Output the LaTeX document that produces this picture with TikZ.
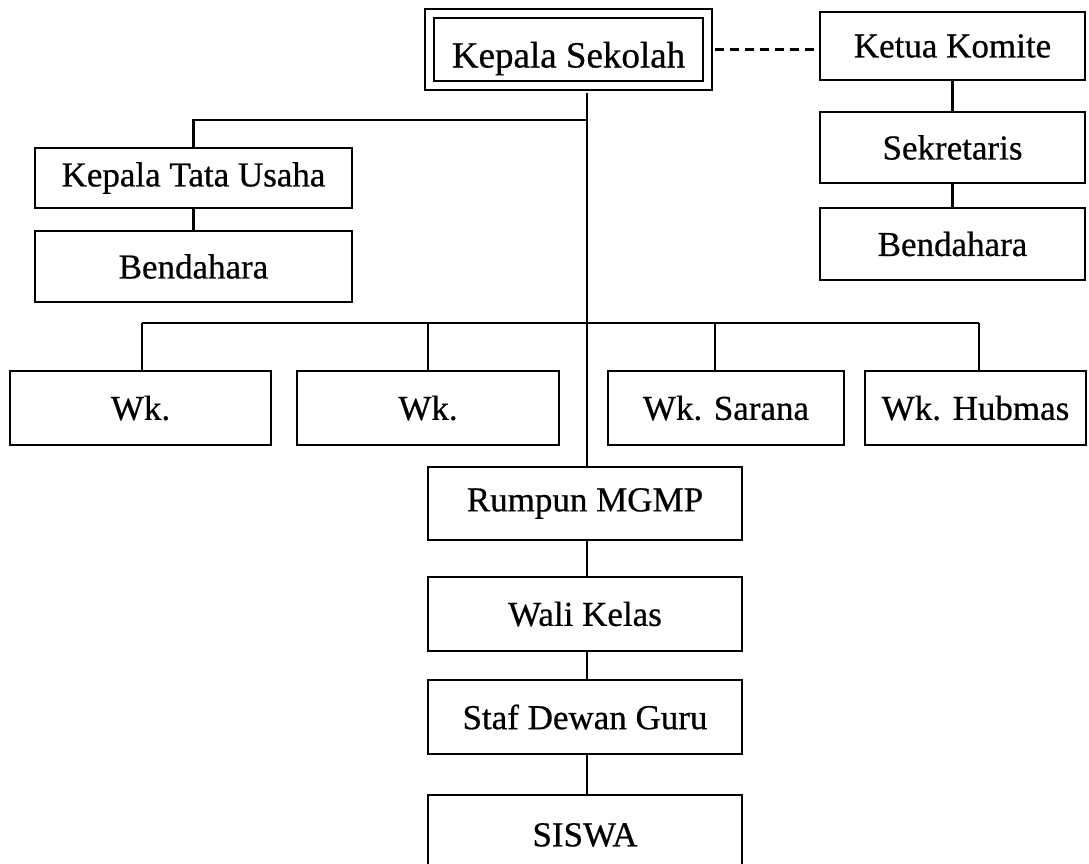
\documentclass[tikz,border=0pt]{standalone}
\usepackage{fontspec}
\setmainfont[FakeBold=0.6]{Liberation Serif}
\usetikzlibrary{calc}
\begin{document}
\begin{tikzpicture}[x=1pt,y=-1pt,
  box/.style 2 args={draw, line width=2.8pt, minimum width=#1, minimum height=#2,
    inner sep=0pt, fill=white, font=\fontsize{35}{40}\selectfont},
  conn/.style={line width=2.6pt},
  dashconn/.style={line width=2.2pt, dash pattern=on 9pt off 6pt}]
\useasboundingbox (0,0) rectangle (1089,863);

% nodes
\node[box={278}{72}, double, line width=2.8pt, double distance=6.2pt,
      font=\fontsize{37}{42}\selectfont] (ks) at (568.5,49.5) {\raisebox{-18pt}[0pt][0pt]{Kepala Sekolah}};
\node[box={265}{68}] (kk)  at (952.5,46)    {Ketua Komite};
\node[box={265}{71}] (sek) at (952.5,147.5) {Sekretaris};
\node[box={265}{72}] (bk)  at (952.5,244)   {Bendahara};
\node[box={317}{60}] (ktu) at (193.5,178)   {Kepala Tata Usaha};
\node[box={317}{71}] (bs)  at (193.5,266.5) {Bendahara};
\node[box={261}{74}] (w1)  at (140.5,408)   {Wk.};
\node[box={262}{74}] (w2)  at (428,408)     {Wk.};
\node[box={236}{74}] (w3)  at (726,408)     {Wk. Sarana};
\node[box={221}{74}] (w4)  at (975.5,408)   {Wk. Hubmas};
\node[box={314}{73}] (rm)  at (585,503.5)   {Rumpun MGMP};
\node[box={314}{74}] (wk)  at (585,614)     {Wali Kelas};
\node[box={314}{74}] (sdg) at (585,717)     {Staf Dewan Guru};
\node[box={314}{80}] (sis) at (585,835)     {SISWA};

% helper coordinates
\coordinate (t)  at (587,0);
\coordinate (hl) at (193.5,120);
\coordinate (bl) at (142,323);
\coordinate (br) at (979,323);
\coordinate (d3) at (715,323);

% connectors
\draw[dashconn, shorten <=5.8pt] (ks.east) -- (kk.west |- ks.east);
\draw[conn, shorten <=5.8pt] (ks.south -| t) -- (rm.north -| t);
\draw[conn] (ktu.north) -- (hl) -- (hl -| t);
\draw[conn] (ktu.south) -- (bs.north);
\draw[conn] (kk.south) -- (sek.north);
\draw[conn] (sek.south) -- (bk.north);
\draw[conn] (bl) -- (br);
\draw[conn] (bl) -- (w1.north -| bl);
\draw[conn] (w2.north |- bl) -- (w2.north);
\draw[conn] (d3) -- (w3.north -| d3);
\draw[conn] (br) -- (w4.north -| br);
\draw[conn] (rm.south -| t) -- (wk.north -| t);
\draw[conn] (wk.south -| t) -- (sdg.north -| t);
\draw[conn] (sdg.south -| t) -- (sis.north -| t);
\end{tikzpicture}
\end{document}
